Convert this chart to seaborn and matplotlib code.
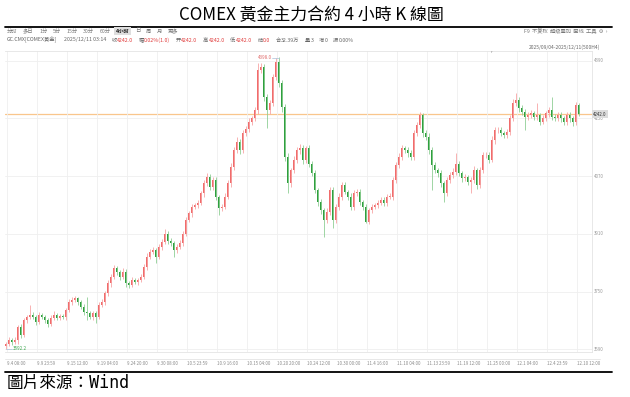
import numpy as np
import pandas as pd
import seaborn as sns
import matplotlib.pyplot as plt
from matplotlib.lines import Line2D

sns.set_style("white")
plt.rcParams['font.family'] = ['Noto Sans CJK SC', 'DejaVu Sans']

# -----------------------------
# DATA: COMEX gold, 4H candles
# -----------------------------
first_open = 3600
close = [3606, 3615, 3611, 3615, 3652, 3629, 3671, 3680, 3685, 3680,
         3666, 3685, 3680, 3671, 3660, 3676, 3686, 3678, 3682, 3679,
         3699, 3722, 3727, 3731, 3722, 3708, 3694, 3690, 3680, 3690,
         3680, 3713, 3722, 3745, 3773, 3791, 3814, 3805, 3791, 3805,
         3773, 3768, 3782, 3777, 3782, 3791, 3819, 3847, 3860, 3865,
         3847, 3874, 3888, 3911, 3890, 3884, 3865, 3874, 3884, 3911,
         3948, 3967, 3985, 3990, 3995, 4022, 4050, 4068, 4041, 4059,
         4013, 3981, 3985, 4013, 4050, 4096, 4142, 4166, 4142, 4189,
         4202, 4221, 4230, 4253, 4364, 4374, 4290, 4253, 4272, 4346,
         4387, 4327, 4263, 4124, 4050, 4087, 4115, 4142, 4147, 4115,
         4147, 4105, 4078, 4032, 3999, 3976, 3948, 3971, 4032, 3948,
         3985, 4013, 4045, 4027, 4013, 3985, 4022, 4027, 3999, 3985,
         3944, 3976, 3985, 3990, 3995, 4004, 3995, 4013, 4013, 4059,
         4101, 4124, 4147, 4142, 4133, 4124, 4189, 4212, 4239, 4189,
         4179, 4142, 4101, 4087, 4078, 4050, 4022, 4059, 4073, 4082,
         4105, 4078, 4064, 4068, 4055, 4059, 4087, 4045, 4087, 4129,
         4129, 4115, 4170, 4198, 4198, 4189, 4184, 4193, 4230, 4272,
         4281, 4258, 4249, 4235, 4239, 4244, 4235, 4239, 4221, 4230,
         4244, 4253, 4235, 4230, 4239, 4230, 4221, 4239, 4230, 4221,
         4267, 4242]

upper_wick = [5, 8, 6, 10, 6, 9, 7, 5, 28, 8,
              6, 9, 7, 5, 6, 8, 10, 6, 5, 7,
              6, 8, 9, 7, 5, 6, 8, 40, 6, 7,
              5, 8, 7, 6, 9, 8, 10, 7, 6, 9,
              7, 5, 8, 6, 7, 9, 8, 10, 7, 9,
              6, 8, 7, 12, 6, 8, 5, 7, 9, 8,
              10, 7, 8, 6, 9, 8, 10, 12, 7, 9,
              8, 6, 7, 9, 8, 10, 9, 12, 6, 10,
              8, 9, 7, 10, 19, 11, 8, 7, 9, 8,
              11, 12, 10, 8, 9, 7, 10, 8, 12, 9,
              8, 10, 7, 9, 6, 8, 7, 10, 9, 8,
              7, 9, 10, 8, 6, 9, 10, 8, 7, 6,
              8, 7, 9, 6, 8, 7, 9, 8, 10, 9,
              8, 10, 9, 7, 8, 9, 10, 8, 9, 7,
              8, 10, 9, 7, 6, 8, 7, 9, 8, 10,
              28, 8, 7, 9, 6, 8, 10, 7, 9, 8,
              7, 9, 10, 8, 7, 9, 6, 8, 10, 12,
              19, 9, 8, 7, 9, 10, 8, 33, 7, 9,
              8, 10, 37, 7, 9, 8, 6, 10, 8, 7,
              9, 6]

lower_wick = [7.8, 6, 8, 5, 9, 7, 6, 8, 5, 7,
              8, 6, 7, 9, 8, 6, 5, 8, 7, 6,
              7, 6, 8, 5, 9, 7, 8, 20, 6, 8,
              18, 6, 7, 8, 6, 9, 7, 8, 10, 6,
              9, 8, 6, 7, 8, 6, 7, 9, 8, 6,
              19, 7, 8, 6, 9, 7, 18, 8, 6, 7,
              8, 6, 9, 7, 8, 6, 9, 7, 10, 8,
              9, 19, 8, 7, 6, 9, 8, 7, 10, 8,
              7, 9, 8, 6, 10, 9, 12, 50, 10, 8,
              9, 11, 14, 12, 28, 10, 9, 8, 10, 12,
              9, 10, 8, 9, 11, 10, 46, 9, 10, 23,
              8, 9, 10, 7, 8, 9, 10, 8, 9, 10,
              5, 8, 9, 7, 8, 6, 9, 8, 7, 9,
              8, 7, 9, 8, 10, 9, 8, 7, 9, 10,
              9, 10, 70, 8, 9, 10, 23, 8, 9, 7,
              9, 8, 10, 7, 9, 33, 8, 10, 7, 9,
              8, 9, 7, 10, 8, 9, 7, 8, 9, 7,
              8, 9, 10, 37, 8, 9, 10, 8, 9, 7,
              8, 9, 10, 8, 7, 9, 8, 10, 9, 11,
              8, 6]

x_labels = ["9.4 08:00", "9.9 23:59", "9.15 12:00", "9.19 04:00", "9.24 20:00",
            "9.30 08:00", "10.5 23:59", "10.9 16:00", "10.15 04:00", "10.20 20:00",
            "10.24 12:00", "10.30 00:00", "11.4 16:00", "11.10 04:00", "11.13 23:59",
            "11.19 12:00", "11.25 00:00", "12.1 04:00", "12.4 23:59", "12.10 12:00"]
y_ticks = [3590, 3750, 3910, 4070, 4230, 4390]
last_price = 4242.0
max_price = 4398.0
min_price = 3592.2

df = pd.DataFrame({'close': close, 'uw': upper_wick, 'lw': lower_wick})
df['open'] = [first_open] + close[:-1]
df['top'] = df[['open', 'close']].max(axis=1)
df['bot'] = df[['open', 'close']].min(axis=1)
df['high'] = df['top'] + df['uw']
df['low'] = df['bot'] - df['lw']
df['up'] = df['close'] >= df['open']
df['x'] = np.arange(len(df))

RED, GREEN = '#f06c6c', '#2f9f3f'
RED_W, GREEN_W = '#f7a5a5', '#8fcf95'
colors = [RED if u else GREEN for u in df['up']]
wick_colors = [RED_W if u else GREEN_W for u in df['up']]

# -----------------------------
# FIGURE
# -----------------------------
W, H = 630, 397
fig = plt.figure(figsize=(W / 100, H / 100), dpi=100)

def box(x0, y0, x1, y1):
    return [x0 / W, 1 - y1 / H, (x1 - x0) / W, (y1 - y0) / H]

ax = fig.add_axes(box(5, 51, 592, 352))

# candles
ax.vlines(df['x'], df['low'], df['high'], colors=wick_colors, lw=0.6)
ax.bar(df['x'], np.maximum(df['top'] - df['bot'], 0.8), bottom=df['bot'],
       width=0.5, color=colors, linewidth=0)

ax.axhline(last_price, color='#f9c68c', lw=0.9, zorder=0.5)

# extremes
i_max = int(df['high'].idxmax())
ax.plot([i_max - 2.3, i_max], [max_price, max_price], color='#a9bfd8', lw=0.5)
ax.text(i_max - 2.4, max_price, f"{max_price:.1f}", fontsize=3.3, color='#e06a6a',
        ha='right', va='center')
ax.plot([0, 2], [min_price, min_price], color='#a9bfd8', lw=0.5)
ax.text(2.3, min_price, f"{min_price:.1f}", fontsize=3.3, color='#3aa64c',
        ha='left', va='center')

ax.set_xlim(-1 / 3, 586 / 3)
ax.set_ylim(3582.5, 4417)

tick_pos = [1 / 3 + 10 * k for k in range(len(x_labels))]
ax.set_xticks(tick_pos)
ax.set_xticklabels(x_labels, ha='left')
ax.set_yticks(y_ticks)
ax.set_yticklabels([str(v) for v in y_ticks])
ax.yaxis.tick_right()
ax.tick_params(axis='x', length=0, pad=6.5, labelsize=3.2, labelcolor='#8a8a8a')
ax.tick_params(axis='y', length=0, pad=1.5, labelsize=3.2, labelcolor='#9a9a9a')
for lab in ax.get_yticklabels():
    lab.set_va('center')
ax.grid(True, color='#efefef', lw=0.6)
ax.set_axisbelow(True)
ax.spines['left'].set_visible(False)
for side in ['top', 'bottom', 'right']:
    ax.spines[side].set_color('#e4e4e4')
    ax.spines[side].set_linewidth(0.6)

# price tag
fig.text(593 / W, 1 - 114 / H, f"{last_price:.1f}", fontsize=3.2, color='#333333',
         ha='left', va='center',
         bbox=dict(boxstyle='square,pad=0.25', fc='#dcdcdc', ec='none'))
fig.text(491 / W, 1 - 52 / H, "r", fontsize=3, color='#888888', ha='center', va='center')

# frame lines
fig.add_artist(Line2D([5 / W, 600 / W], [1 - 359 / H] * 2, color='#e4e4e4', lw=0.6))
fig.add_artist(Line2D([5 / W, 612 / W], [1 - 27 / H] * 2, color='black', lw=1.3))
fig.add_artist(Line2D([5 / W, 612 / W], [1 - 372 / H] * 2, color='black', lw=1.3))

# title and source
fig.text(311 / W, 1 - 15 / H, "COMEX 黃金主力合約 4 小時 K 線圖", fontsize=12.2,
         family=['Noto Sans CJK TC'], ha='center', va='center', color='black')
fig.text(7 / W, 1 - 383 / H, "圖片來源：Wind", fontsize=12,
         family=['DejaVu Sans Mono', 'Noto Sans CJK TC'],
         ha='left', va='center', color='black')

# toolbar rows
renderer = fig.canvas.get_renderer()

def put(x, y, s, **kw):
    t = fig.text(x / W, 1 - y / H, s, ha='left', va='center', **kw)
    return x + t.get_window_extent(renderer).width

FS = 3.8
periods = ["分时", "多日", "1分", "5分", "15分", "30分", "60分", "4小时", "日", "周", "月", "更多"]
x = 7
for p in periods:
    if p == "4小时":
        x = put(x, 31, p, fontsize=FS, color='#222222', fontweight='bold',
                bbox=dict(boxstyle='square,pad=0.3', fc='#dedede', ec='none')) + 5.5
    else:
        x = put(x, 31, p, fontsize=FS, color='#777777') + 5.5

info_labels = ["收", "幅", "开", "高", "低", "结", "合", "量", "增", "振"]
info_values = ["4242.0", "0.02%(1.0)", "4242.0", "4242.0", "4242.0", "0.0",
               "32.39万", "3", "0", "0.00%"]
x = put(7, 40, "GC.CMX[COMEX黄金]", fontsize=FS, color='#666666') + 6.5
x = put(x, 40, "2025/12/11 03:14", fontsize=FS, color='#666666') + 5.5
for k, (lab, val) in enumerate(zip(info_labels, info_values)):
    x = put(x, 40, lab, fontsize=FS, color='#666666') + 0.3
    x = put(x, 40, val, fontsize=FS, color='#e03a3a' if k < 6 else '#666666') + 5.5

fig.text(607 / W, 1 - 31 / H, "F9  不复权  超级叠加  画线  工具  ⚙  ›", fontsize=FS,
         color='#777777', ha='right', va='center')
fig.text(600 / W, 1 - 47 / H, "2025/09/04-2025/12/11(500H4)", fontsize=3.5,
         color='#666666', ha='right', va='center')

fig.savefig("out.png", dpi=100)
